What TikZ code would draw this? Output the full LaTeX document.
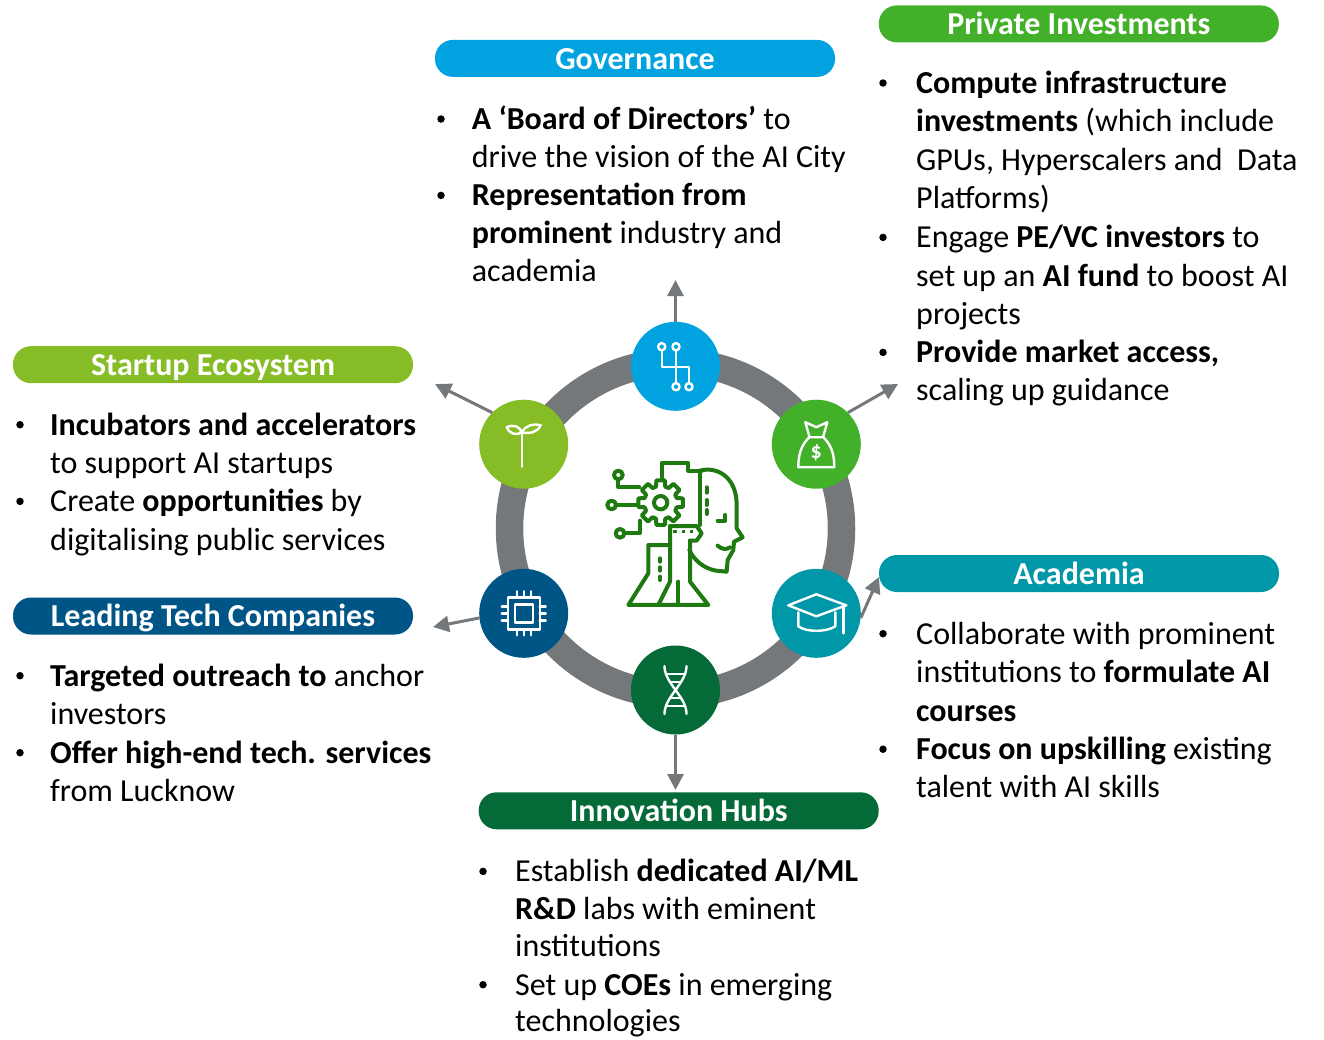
\documentclass[tikz,border=0pt]{standalone}
\usepackage{fontspec}
\setmainfont{Carlito}
\usetikzlibrary{arrows.meta}
\definecolor{cgov}{HTML}{00A3E0}
\definecolor{cpriv}{HTML}{43B02A}
\definecolor{cstart}{HTML}{86BC25}
\definecolor{clead}{HTML}{005587}
\definecolor{cacad}{HTML}{0097A9}
\definecolor{cinno}{HTML}{046A38}
\definecolor{cring}{HTML}{75787B}
\definecolor{cicon}{HTML}{1E7A10}
\begin{document}
\begin{tikzpicture}[x=1pt,y=-1pt,
  bar/.style={rectangle, rounded corners=18pt, minimum width=400pt, minimum height=37pt, inner sep=0pt},
  ttl/.style={anchor=base, text=white, font=\fontsize{32}{38}\selectfont\bfseries, inner sep=0pt},
  ln/.style={anchor=base west, inner sep=0pt, font=\fontsize{32}{38}\selectfont},
  bul/.style={circle, fill=black, minimum size=7.5pt, inner sep=0pt},
  hub/.style={circle, minimum size=89pt, inner sep=0pt},
  ico/.style={draw=white, line width=2.4pt, line cap=round, line join=round},
  ci/.style={draw=cicon, line width=4pt, line cap=round, line join=round},
  arr/.style={draw=cring, line width=3pt, -{Triangle[length=16pt,width=16pt]}},
]
\useasboundingbox (0,0) rectangle (1324,1039);

% ring
\node[circle, draw=cring, line width=27.5pt, minimum size=332pt, inner sep=0pt] (ring) at (675.5,528.3) {};

% hubs
\node[hub, fill=cgov] (gov) at (675.5,366.3) {};
\node[hub, fill=cpriv] (pri) at (816.3,444.2) {};
\node[hub, fill=cstart] (sta) at (523.7,444.2) {};
\node[hub, fill=clead] (lea) at (523.7,613.3) {};
\node[hub, fill=cacad] (aca) at (816.3,613.3) {};
\node[hub, fill=cinno] (inn) at (675.5,690) {};

% arrows
\coordinate (tgov) at (675.5,280);
\coordinate (tpri) at (898,384);
\coordinate (tsta) at (435,384);
\coordinate (tlea) at (433,627);
\coordinate (taca) at (879,577);
\coordinate (tinn) at (675.5,790);
\draw[arr] (gov.90) -- (tgov);
\draw[arr] (pri.45) -- (tpri);
\draw[arr] (sta.135) -- (tsta);
\draw[arr] (lea.186) -- (tlea);
\draw[arr] (aca.-6) -- (taca);
\draw[arr] (inn.-90) -- (tinn);

% icon: governance (branch)
\begin{scope}[shift={(675.5,366.3)}]
  \draw[ico] (-13.8,-16) -- (-13.8,0.5) -- (13.5,0.5) -- (13.5,17);
  \draw[ico] (0.5,-16) -- (0.5,17);
  \draw[ico] (-13.8,-19.6) circle (3.6);
  \draw[ico] (0.5,-19.6) circle (3.6);
  \draw[ico] (0.5,20.4) circle (3.6);
  \draw[ico] (13.5,20.4) circle (3.6);
\end{scope}

% icon: private (money bag)
\begin{scope}[shift={(816.3,444.2)}]
  \draw[ico] (-7,-7) .. controls (-14,0) and (-18,8) .. (-18,23) -- (18,23) .. controls (18,8) and (14,0) .. (7,-7) -- cycle;
  \draw[ico] (-7,-8) -- (-11,-22) -- (0,-17) -- (11,-22) -- (7,-8);
  \node[text=white, font=\fontsize{22}{22}\selectfont\bfseries, inner sep=0pt] (dollar) at (0,8) {\$};
\end{scope}

% icon: startup (sprout)
\begin{scope}[shift={(523.7,444.2)}]
  \draw[ico] (-2,-12) -- (-2,22.5);
  \draw[ico] (-2,-12) .. controls (-8,-8) and (-15,-11) .. (-17,-17) .. controls (-10,-20) and (-4,-18) .. (-2,-12);
  \draw[ico] (-2,-12) .. controls (2,-19) and (10,-21) .. (17,-19) .. controls (14,-12) and (6,-10) .. (-2,-12);
\end{scope}

% icon: leading (chip)
\begin{scope}[shift={(523.7,613.3)}]
  \draw[ico] (-16,-16) rectangle (16,16);
  \draw[ico] (-9,-9) rectangle (9,9);
  \foreach \p in {-7,0,7} {
    \draw[ico] (\p,-16) -- (\p,-22);
    \draw[ico] (\p,16) -- (\p,22);
    \draw[ico] (-16,\p) -- (-22,\p);
    \draw[ico] (16,\p) -- (22,\p);
  }
\end{scope}

% icon: academia (cap)
\begin{scope}[shift={(816.3,613.3)}]
  \draw[ico] (-28,-8) -- (0,-19) -- (30,-8) -- (0,3) -- cycle;
  \draw[ico] (-18,-1) -- (-18,13) .. controls (-10,19) and (10,19) .. (19,13) -- (19,-1);
  \draw[ico] (27,-7) -- (27,20);
\end{scope}

% icon: innovation (dna)
\begin{scope}[shift={(675.5,690)}]
  \draw[ico] plot[domain=-24:24, samples=30, smooth] ({-11*cos(180*(\x+24)/48)}, \x);
  \draw[ico] plot[domain=-24:24, samples=30, smooth] ({11*cos(180*(\x+24)/48)}, \x);
  \foreach \y in {-16,-8,8,16} {
    \draw[ico] ({-11*abs(cos(180*(\y+24)/48))+1.5},\y) -- ({11*abs(cos(180*(\y+24)/48))-1.5},\y);
  }
\end{scope}

% central icon
\begin{scope}[shift={(590,450)}, scale=0.3333]
  \draw[ci] (85,75) circle (13);
  \draw[ci] (65,165) circle (13);
  \draw[ci] (90,250) circle (13);
  \draw[ci] (85,88) -- (85,112) -- (148,112);
  \draw[ci] (78,165) -- (142,165);
  \draw[ci] (103,250) -- (150,250) -- (150,212);
  \draw[ci] (212,158) +(-16:50) \foreach \a in {0,45,...,315} { -- +(\a-16:50) -- +(\a-11:68) -- +(\a+11:68) -- +(\a+16:50) } -- cycle;
  \draw[ci] (212,158) circle (20);
  \draw[ci] (215,88) -- (215,40) -- (295,40) -- (295,62) -- (335,62);
  \draw[ci] (330,62) .. controls (380,48) and (438,80) .. (440,160) -- (440,235) -- (458,262) -- (432,275) -- (430,300) -- (413,330) -- (410,365) -- (378,362) .. controls (340,355) and (312,330) .. (298,300);
  \draw[ci] (330,62) -- (330,225);
  \draw[ci] (350,112) -- (350,128);
  \draw[ci] (350,150) -- (350,165);
  \draw[ci] (350,180) -- (350,192);
  \draw[ci] (383,212) -- (405,212) -- (405,195);
  \draw[ci] (383,287) .. controls (395,298) and (408,300) .. (420,292);
  \draw[ci] (240,228) -- (320,228) -- (335,250) -- (320,272) -- (300,272);
  \fill[cicon] (250,240) rectangle +(10,10);
  \fill[cicon] (275,240) rectangle +(10,10);
  \fill[cicon] (300,240) rectangle +(10,10);
  \draw[ci] (240,228) -- (240,285) -- (175,285) -- (175,370) -- (115,465) -- (355,465) -- (300,395) -- (300,272);
  \draw[ci] (205,465) -- (240,395) -- (240,285);
  \draw[ci] (265,465) -- (265,395);
  \draw[ci] (210,325) -- (210,335);
  \draw[ci] (210,352) -- (210,362);
  \draw[ci] (210,380) -- (210,390);
\end{scope}

% title bars
\node[bar, fill=cgov] (govbar) at (635,58.4) {};
\node[ttl] (govttl) at (635,69) {Governance};
\node[bar, fill=cpriv] (pribar) at (1078.8,23.9) {};
\node[ttl] (prittl) at (1078.8,34.3) {Private Investments};
\node[bar, fill=cstart] (stabar) at (213,364.7) {};
\node[ttl] (stattl) at (213,375) {Startup Ecosystem};
\node[bar, fill=clead] (leabar) at (213,616) {};
\node[ttl] (leattl) at (213,626) {Leading Tech Companies};
\node[bar, fill=cacad] (acabar) at (1079,573.5) {};
\node[ttl] (acattl) at (1079,584.5) {Academia};
\node[bar, fill=cinno] (innbar) at (678.7,810.8) {};
\node[ttl] (innttl) at (678.7,821.7) {Innovation Hubs};

% governance text
\node[bul] (gb1) at (441,119) {};
\node[ln] (g1) at (471.7,129.3) {\textbf{A ‘Board of Directors’} to};
\node[ln] (g2) at (471.7,167.7) {drive the vision of the AI City};
\node[bul] (gb2) at (441,195.4) {};
\node[ln] (g3) at (471.7,205.7) {\textbf{Representation from}};
\node[ln] (g4) at (471.7,243.3) {\textbf{prominent} industry and};
\node[ln] (g5) at (471.7,281.7) {academia};

% private text
\node[bul] (pb1) at (883,83) {};
\node[ln] (p1) at (916,93.3) {\textbf{Compute infrastructure}};
\node[ln] (p2) at (916,131.7) {\textbf{investments} (which include};
\node[ln] (p3) at (916,170) {GPUs, Hyperscalers and~ Data};
\node[ln] (p4) at (916,208.3) {Platforms)};
\node[bul] (pb2) at (883,237.4) {};
\node[ln] (p5) at (916,247.7) {Engage \textbf{PE/VC investors} to};
\node[ln] (p6) at (916,286) {set up an \textbf{AI fund} to boost AI};
\node[ln] (p7) at (916,324.3) {projects};
\node[bul] (pb3) at (883,352.4) {};
\node[ln] (p8) at (916,362.7) {\textbf{Provide market access,}};
\node[ln] (p9) at (916,400) {scaling up guidance};

% startup text
\node[bul] (sb1) at (20,424.7) {};
\node[ln] (s1) at (50,435) {\textbf{Incubators and accelerators}};
\node[ln] (s2) at (50,473.3) {to support AI startups};
\node[bul] (sb2) at (20,501.4) {};
\node[ln] (s3) at (50,511.7) {Create \textbf{opportunities} by};
\node[ln] (s4) at (50,550) {digitalising public services};

% leading text
\node[bul] (lb1) at (20,675.7) {};
\node[ln] (l1) at (50,686) {\textbf{Targeted outreach to} anchor};
\node[ln] (l2) at (50,724.5) {investors};
\node[bul] (lb2) at (20,752.7) {};
\node[ln] (l3) at (50,763) {\textbf{Offer high-end tech. services}};
\node[ln] (l4) at (50,801) {from Lucknow};

% academia text
\node[bul] (ab1) at (883,633.7) {};
\node[ln] (a1) at (916,644) {Collaborate with prominent};
\node[ln] (a2) at (916,682.5) {institutions to \textbf{formulate AI}};
\node[ln] (a3) at (916,721) {\textbf{courses}};
\node[bul] (ab2) at (883,749.2) {};
\node[ln] (a4) at (916,759.5) {\textbf{Focus on upskilling} existing};
\node[ln] (a5) at (916,797.5) {talent with AI skills};

% innovation text
\node[bul] (ib1) at (483,871.4) {};
\node[ln] (i1) at (515,881.7) {Establish \textbf{dedicated AI/ML}};
\node[ln] (i2) at (515,919.3) {\textbf{R\&D} labs with eminent};
\node[ln] (i3) at (515,956.7) {institutions};
\node[bul] (ib2) at (483,984.7) {};
\node[ln] (i4) at (515,995) {Set up \textbf{COEs} in emerging};
\node[ln] (i5) at (515,1031.7) {technologies};
\end{tikzpicture}
\end{document}
